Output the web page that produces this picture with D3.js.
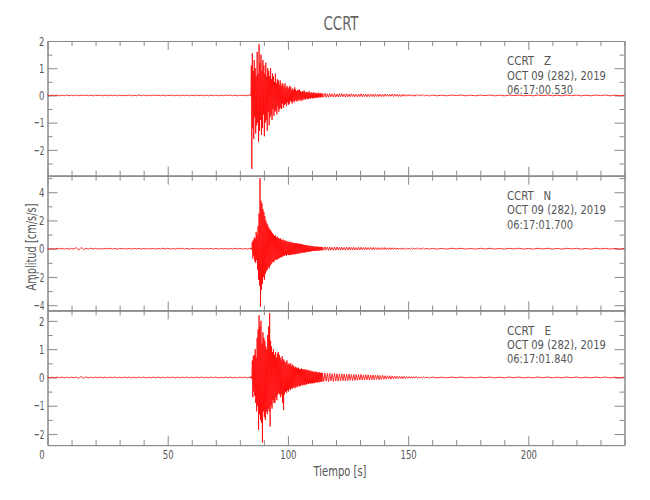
<!DOCTYPE html>
<html><head><meta charset="utf-8">
<script src="https://cdn.jsdelivr.net/npm/d3@7"></script>
<style>
body{margin:0;background:#fff}
text{font-family:"Liberation Sans Narrow","DejaVu Sans Condensed","DejaVu Sans",sans-serif;white-space:pre}
</style>
</head><body><svg id="c" width="650" height="500"></svg>
<script>
// ---------- data ----------
const title = "CCRT";
const xLabel = "Tiempo [s]";
const yLabel = "Amplitud [cm/s/s]";
const xDomain = [0, 240];
const xTicksMajor = [0, 50, 100, 150, 200];
const xTicksMinor = [10,20,30,40,60,70,80,90,110,120,130,140,160,170,180,190,210,220,230,240];

const components = ["Z", "N", "E"];
const headerLines = {
  Z: ["CCRT   Z", "OCT 09 (282), 2019", "06:17:00.530"],
  N: ["CCRT   N", "OCT 09 (282), 2019", "06:17:01.700"],
  E: ["CCRT   E", "OCT 09 (282), 2019", "06:17:01.840"]
};
const yDomains = { Z: [-2.95, 2.0], N: [-4.37, 5.17], E: [-2.39, 2.37] };
const yTicksMajor = { Z: [2,1,0,-1,-2], N: [4,2,0,-2,-4], E: [2,1,0,-1,-2] };
const yTicksMinor = { Z: [1.5,0.5,-0.5,-1.5,-2.5], N: [5,3,1,-1,-3], E: [1.5,0.5,-0.5,-1.5] };

// sampling of the hand-read trace segments (start time, step in s)
const preStart = 0,    preStep = 1;
const mainStart = 84.4, mainStep = 0.2;
const codaStart = 114.4, codaStep = 0.5;
const tailStart = 160,  tailStep = 2;

const zPre = [0.01,-0.015,0.015,-0.01,0.015,-0.015,0.01,-0.015,0.015,-0.01,
  0.01,-0.015,0.015,-0.015,0.01,-0.01,0.015,-0.015,0.01,-0.015,
  0.015,-0.01,0.015,-0.015,0.01,-0.015,0.015,-0.01,0.01,-0.015,
  0.015,-0.015,0.01,-0.01,0.015,-0.015,0.01,-0.015,0.015,-0.01,
  0.015,-0.015,0.01,-0.015,0.015,-0.01,0.01,-0.015,0.015,-0.015,
  0.01,-0.01,0.015,-0.015,0.01,-0.015,0.015,-0.01,0.015,-0.015,
  0.01,-0.015,0.015,-0.01,0.01,-0.015,0.015,-0.015,0.01,-0.01,
  0.015,-0.015,0.01,-0.015,0.015,-0.01,0.015,-0.015,0.01,-0.015,
  0.015,-0.01,0.01,-0.015,0.015];
const zMain = [0.02,-0.03,1.1,-2.7,1.55,-1.2,0.9,-1.6,1.3,-0.8,
  1.0,-1.4,0.7,-1.1,1.6,-1.0,0.8,-1.7,1.88,-1.3,
  1.2,-0.9,1.5,-1.45,0.9,-1.2,1.3,-0.7,1.1,-1.5,
  0.8,-1.0,1.2,-0.9,0.7,-1.3,1.0,-0.6,0.9,-1.1,
  0.7,-0.8,1.0,-0.7,0.6,-0.9,0.8,-0.5,0.7,-0.75,
  0.5,-0.6,0.8,-0.55,0.45,-0.7,0.6,-0.4,0.55,-0.6,
  0.4,-0.5,0.55,-0.45,0.35,-0.5,0.45,-0.3,0.4,-0.45,
  0.3,-0.35,0.45,-0.3,0.25,-0.4,0.35,-0.25,0.3,-0.35,
  0.25,-0.3,0.35,-0.2,0.3,-0.25,0.2,-0.3,0.25,-0.2,
  0.2,-0.25,0.3,-0.18,0.22,-0.2,0.15,-0.22,0.2,-0.15,
  0.18,-0.2,0.22,-0.15,0.16,-0.18,0.12,-0.2,0.16,-0.12,
  0.14,-0.16,0.18,-0.12,0.1,-0.15,0.13,-0.1,0.12,-0.14,
  0.1,-0.12,0.15,-0.1,0.09,-0.12,0.11,-0.08,0.1,-0.11,
  0.08,-0.1,0.12,-0.08,0.07,-0.1,0.09,-0.07,0.08,-0.09,
  0.07,-0.08,0.1,-0.06,0.06,-0.08,0.08,-0.06,0.07,-0.07];
const zCoda = [0.07,-0.06,0.08,-0.07,0.06,-0.07,0.07,-0.05,0.06,-0.06,
  0.07,-0.06,0.05,-0.06,0.06,-0.05,0.07,-0.05,0.05,-0.06,
  0.06,-0.05,0.05,-0.05,0.06,-0.04,0.05,-0.05,0.04,-0.05,
  0.05,-0.04,0.06,-0.05,0.04,-0.04,0.05,-0.05,0.04,-0.04,
  0.05,-0.04,0.04,-0.05,0.05,-0.04,0.04,-0.04,0.05,-0.04,
  0.04,-0.04,0.05,-0.03,0.04,-0.04,0.04,-0.03,0.05,-0.04,
  0.04,-0.03,0.04,-0.04,0.03,-0.04,0.04,-0.03,0.04,-0.03,
  0.03,-0.03,0.03,-0.02,0.03,-0.03,0.02,-0.03,0.03,-0.02,
  0.02,-0.02,0.03,-0.02,0.02,-0.02,0.02,-0.02,0.02,-0.02];
const zTail = [0.015,-0.015,0.01,-0.015,0.015,-0.01,0.015,-0.015,0.01,-0.015,
  0.015,-0.01,0.015,-0.015,0.01,-0.015,0.015,-0.01,0.015,-0.015,
  0.01,-0.015,0.015,-0.01,0.015,-0.015,0.01,-0.015,0.015,-0.01,
  0.015,-0.015,0.01,-0.015,0.015,-0.01,0.015,-0.015,0.01,-0.015,
  0.015];

const nPre = [0.03,-0.03,0.02,-0.03,0.03,-0.02,0.03,-0.03,0.02,-0.03,
  0.03,-0.03,0.08,-0.1,0.09,-0.07,0.04,-0.03,0.03,-0.02,
  0.03,-0.03,0.02,-0.03,0.03,-0.02,0.03,-0.03,0.02,-0.03,
  0.03,-0.02,0.03,-0.03,0.02,-0.03,0.03,-0.02,0.03,-0.03,
  0.02,-0.03,0.03,-0.02,0.03,-0.03,0.02,-0.03,0.03,-0.02,
  0.03,-0.03,0.02,-0.03,0.03,-0.02,0.03,-0.03,0.02,-0.03,
  0.03,-0.02,0.03,-0.03,0.02,-0.03,0.03,-0.02,0.03,-0.03,
  0.02,-0.03,0.03,-0.02,0.03,-0.03,0.02,-0.03,0.03,-0.02,
  0.03,-0.03,0.02,-0.03,0.03];
const nMain = [0.03,-0.04,0.05,-0.05,0.5,-0.7,0.6,-0.5,0.8,-0.9,
  0.7,-1.0,1.2,-0.8,1.0,-1.5,1.6,-2.2,2.5,-2.6,
  5.0,-4.1,3.4,-2.9,3.2,-2.5,2.8,-2.0,2.6,-2.2,
  2.3,-1.8,2.0,-1.6,1.8,-1.5,1.7,-1.3,1.5,-1.4,
  1.4,-1.2,1.3,-1.1,1.2,-1.0,1.1,-0.9,1.0,-0.95,
  0.9,-0.8,0.95,-0.75,0.8,-0.8,0.85,-0.7,0.75,-0.7,
  0.7,-0.65,0.75,-0.6,0.65,-0.6,0.6,-0.55,0.65,-0.5,
  0.55,-0.5,0.6,-0.45,0.5,-0.5,0.55,-0.4,0.45,-0.45,
  0.5,-0.45,0.45,-0.45,0.48,-0.4,0.45,-0.42,0.4,-0.4,
  0.42,-0.38,0.4,-0.4,0.38,-0.36,0.4,-0.34,0.36,-0.36,
  0.34,-0.35,0.36,-0.3,0.32,-0.32,0.34,-0.28,0.3,-0.3,
  0.28,-0.26,0.27,-0.28,0.25,-0.24,0.26,-0.24,0.23,-0.22,
  0.22,-0.2,0.21,-0.21,0.19,-0.18,0.2,-0.18,0.17,-0.17,
  0.18,-0.15,0.16,-0.16,0.15,-0.14,0.16,-0.15,0.13,-0.14,
  0.15,-0.12,0.13,-0.13,0.12,-0.12,0.13,-0.11,0.11,-0.12];
const nCoda = [0.12,-0.11,0.13,-0.1,0.11,-0.12,0.12,-0.1,0.1,-0.11,
  0.11,-0.1,0.12,-0.09,0.1,-0.1,0.11,-0.09,0.09,-0.1,
  0.1,-0.09,0.11,-0.08,0.09,-0.09,0.1,-0.08,0.08,-0.09,
  0.09,-0.08,0.1,-0.07,0.08,-0.08,0.09,-0.07,0.08,-0.08,
  0.08,-0.07,0.09,-0.07,0.07,-0.07,0.08,-0.06,0.07,-0.07,
  0.07,-0.06,0.08,-0.06,0.06,-0.07,0.07,-0.06,0.06,-0.06,
  0.06,-0.05,0.05,-0.05,0.05,-0.05,0.05,-0.04,0.04,-0.05,
  0.04,-0.04,0.04,-0.04,0.04,-0.04,0.04,-0.04,0.04,-0.03,
  0.04,-0.03,0.03,-0.03,0.04,-0.03,0.03,-0.03,0.03,-0.03];
const nTail = [0.03,-0.03,0.02,-0.03,0.03,-0.02,0.03,-0.03,0.02,-0.03,
  0.03,-0.02,0.03,-0.03,0.02,-0.03,0.03,-0.02,0.03,-0.03,
  0.02,-0.03,0.03,-0.02,0.03,-0.03,0.02,-0.03,0.03,-0.02,
  0.03,-0.03,0.02,-0.03,0.03,-0.02,0.03,-0.03,0.02,-0.03,
  0.03];

const ePre = [0.015,-0.015,0.01,-0.015,0.015,-0.01,0.015,-0.015,0.01,-0.015,
  0.015,-0.01,0.015,-0.03,0.035,-0.03,0.02,-0.015,0.01,-0.015,
  0.015,-0.01,0.015,-0.015,0.01,-0.015,0.015,-0.01,0.015,-0.015,
  0.01,-0.015,0.015,-0.01,0.015,-0.015,0.01,-0.015,0.015,-0.01,
  0.015,-0.015,0.01,-0.015,0.015,-0.01,0.015,-0.015,0.01,-0.015,
  0.015,-0.01,0.015,-0.015,0.01,-0.015,0.015,-0.01,0.015,-0.015,
  0.01,-0.015,0.015,-0.01,0.015,-0.015,0.01,-0.015,0.015,-0.01,
  0.015,-0.015,0.01,-0.015,0.015,-0.01,0.015,-0.015,0.01,-0.015,
  0.015,-0.01,0.015,-0.015,0.01];
const eMain = [0.02,-0.03,0.03,-0.04,0.6,-0.7,0.75,-0.5,0.8,-0.65,
  1.0,-0.9,0.7,-1.2,1.4,-1.0,1.7,-1.85,2.2,-1.3,
  1.8,-1.5,2.0,-1.6,1.2,-2.3,1.6,-1.2,1.4,-1.4,
  1.3,-1.5,1.1,-1.2,1.0,-1.3,1.5,-1.1,1.8,-1.2,
  2.27,-1.73,1.3,-1.0,1.1,-1.1,0.9,-0.8,1.0,-0.9,
  0.8,-0.9,0.9,-0.7,0.7,-0.8,0.85,-0.6,0.9,-0.55,
  0.8,-0.6,0.7,-0.7,0.6,-0.6,0.75,-0.9,0.65,-1.15,
  0.6,-0.6,0.55,-0.5,0.5,-0.55,0.6,-0.45,0.45,-0.5,
  0.5,-0.4,0.45,-0.45,0.5,-0.38,0.4,-0.4,0.45,-0.35,
  0.4,-0.35,0.35,-0.38,0.38,-0.3,0.35,-0.35,0.32,-0.3,
  0.35,-0.3,0.3,-0.32,0.28,-0.28,0.32,-0.26,0.3,-0.28,
  0.28,-0.25,0.26,-0.27,0.3,-0.24,0.25,-0.25,0.27,-0.22,
  0.24,-0.23,0.26,-0.2,0.22,-0.22,0.24,-0.2,0.2,-0.21,
  0.22,-0.19,0.2,-0.2,0.19,-0.18,0.21,-0.17,0.18,-0.18,
  0.19,-0.16,0.17,-0.17,0.18,-0.15,0.16,-0.16,0.17,-0.14];
const eCoda = [0.15,-0.14,0.16,-0.13,0.14,-0.15,0.15,-0.12,0.13,-0.14,
  0.14,-0.12,0.13,-0.13,0.12,-0.12,0.13,-0.11,0.12,-0.12,
  0.11,-0.11,0.12,-0.1,0.1,-0.11,0.11,-0.1,0.1,-0.1,
  0.1,-0.09,0.11,-0.09,0.09,-0.09,0.1,-0.08,0.09,-0.09,
  0.08,-0.08,0.09,-0.08,0.08,-0.07,0.08,-0.08,0.07,-0.07,
  0.07,-0.06,0.06,-0.06,0.06,-0.05,0.06,-0.06,0.05,-0.05,
  0.05,-0.04,0.04,-0.04,0.04,-0.04,0.04,-0.04,0.04,-0.03,
  0.03,-0.03,0.03,-0.03,0.03,-0.03,0.03,-0.02,0.03,-0.03,
  0.02,-0.02,0.02,-0.02,0.02,-0.02,0.02,-0.02,0.02,-0.02];
const eTail = [0.015,-0.015,0.01,-0.015,0.015,-0.01,0.015,-0.015,0.01,-0.015,
  0.015,-0.01,0.015,-0.015,0.01,-0.015,0.015,-0.01,0.015,-0.015,
  0.01,-0.015,0.015,-0.01,0.015,-0.015,0.01,-0.015,0.015,-0.01,
  0.015,-0.015,0.01,-0.015,0.015,-0.01,0.015,-0.015,0.01,-0.015,
  0.015];

const traceSegments = {
  Z: [zPre, zMain, zCoda, zTail],
  N: [nPre, nMain, nCoda, nTail],
  E: [ePre, eMain, eCoda, eTail]
};
const segStarts = [preStart, mainStart, codaStart, tailStart];
const segSteps = [preStep, mainStep, codaStep, tailStep];

// ---------- layout ----------
const left = 47.5, right = 624.5, top0 = 41, panelH = 134.7;
const axisColor = "#8a8a8a", textColor = "#555", traceColor = "#ff0000";

const svg = d3.select("#c");
const x = d3.scaleLinear().domain(xDomain).range([left, right]);

function squeeze(sel, perChar) {
  sel.each(function() {
    const t = d3.select(this).text();
    if (t.length) d3.select(this).attr("textLength", t.length * perChar).attr("lengthAdjust", "spacingAndGlyphs");
  });
}
function styleAxis(g) {
  g.selectAll("path,line").attr("stroke", axisColor).attr("stroke-width", 1);
  g.selectAll("text").attr("fill", textColor).attr("font-size", 13);
}

components.forEach((comp, k) => {
  const y0 = top0 + k * panelH, y1 = y0 + panelH;
  const y = d3.scaleLinear().domain(yDomains[comp]).range([y1, y0]);
  const g = svg.append("g");

  // axes: ticks inward on all four sides
  const gl = g.append("g").attr("transform", `translate(${left},0)`)
    .call(d3.axisLeft(y).tickValues(yTicksMajor[comp]).tickSize(-10).tickSizeOuter(0).tickPadding(3).tickFormat(d3.format("d")));
  g.append("g").attr("transform", `translate(${left},0)`)
    .call(d3.axisLeft(y).tickValues(yTicksMinor[comp]).tickSize(-5).tickSizeOuter(0).tickFormat(""));
  g.append("g").attr("transform", `translate(${right},0)`)
    .call(d3.axisRight(y).tickValues(yTicksMajor[comp]).tickSize(-10).tickSizeOuter(0).tickFormat(""));
  g.append("g").attr("transform", `translate(${right},0)`)
    .call(d3.axisRight(y).tickValues(yTicksMinor[comp]).tickSize(-5).tickSizeOuter(0).tickFormat(""));
  g.append("g").attr("transform", `translate(0,${y0})`)
    .call(d3.axisTop(x).tickValues(xTicksMajor).tickSize(-9).tickSizeOuter(0).tickFormat(""));
  g.append("g").attr("transform", `translate(0,${y0})`)
    .call(d3.axisTop(x).tickValues(xTicksMinor).tickSize(-5).tickSizeOuter(0).tickFormat(""));
  const gb = g.append("g").attr("transform", `translate(0,${y1})`)
    .call(d3.axisBottom(x).tickValues(xTicksMajor).tickSize(-9).tickSizeOuter(0).tickPadding(5)
      .tickFormat(k === components.length - 1 ? d3.format("d") : ""));
  g.append("g").attr("transform", `translate(0,${y1})`)
    .call(d3.axisBottom(x).tickValues(xTicksMinor).tickSize(-5).tickSizeOuter(0).tickFormat(""));
  g.selectAll("g").each(function(){ styleAxis(d3.select(this)); });
  squeeze(gl.selectAll("text"), 5.4);
  squeeze(gb.selectAll("text"), 5.4);
  gb.selectAll(".tick text").filter(d => d === 0).attr("dx", -6);

  // trace
  const pts = [];
  traceSegments[comp].forEach((vals, s) => {
    vals.forEach((v, i) => pts.push({ t: segStarts[s] + i * segSteps[s], v }));
  });
  g.append("path").datum(pts)
    .attr("fill", "none").attr("stroke", traceColor).attr("stroke-width", 0.8)
    .attr("d", d3.line().x(d => x(d.t)).y(d => y(d.v)));

  // header text
  const hdr = g.append("g");
  headerLines[comp].forEach((line, j) => {
    hdr.append("text").attr("x", 507).attr("y", y0 + 24.3 + j * 14.3)
      .attr("font-size", 13).attr("fill", textColor).attr("xml:space", "preserve").text(line);
  });
  squeeze(hdr.selectAll("text"), 5.5);
});

// titles
svg.append("text").attr("x", 341).attr("y", 30).attr("text-anchor", "middle")
  .attr("font-size", 20).attr("fill", "#666").text(title)
  .attr("textLength", 35).attr("lengthAdjust", "spacingAndGlyphs");
svg.append("text").attr("x", 340).attr("y", 476).attr("text-anchor", "middle")
  .attr("font-size", 14).attr("fill", textColor).text(xLabel)
  .attr("textLength", 53).attr("lengthAdjust", "spacingAndGlyphs");
svg.append("text").attr("transform", "translate(36,247) rotate(-90)").attr("text-anchor", "middle")
  .attr("font-size", 14).attr("fill", textColor).text(yLabel)
  .attr("textLength", 87).attr("lengthAdjust", "spacingAndGlyphs");
</script>
</body></html>
